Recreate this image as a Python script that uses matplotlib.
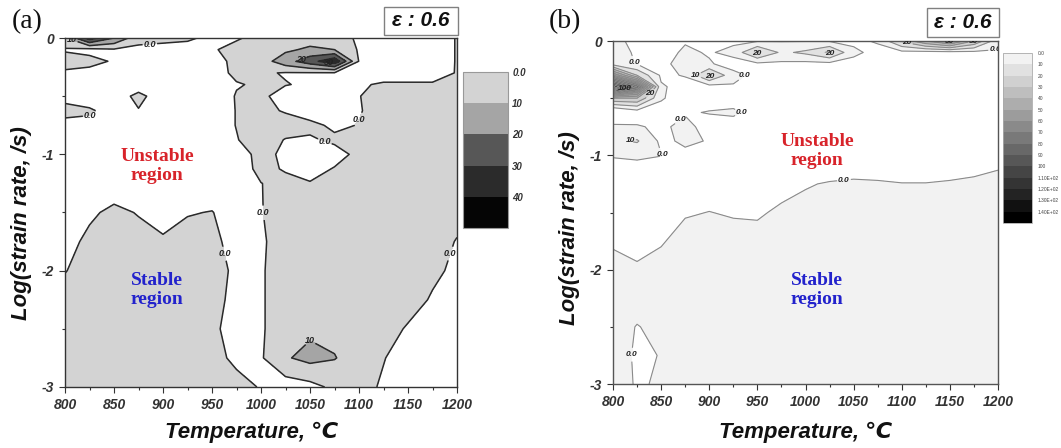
import numpy as np
import matplotlib
matplotlib.use('Agg')
import matplotlib.pyplot as plt
from matplotlib.colors import ListedColormap, BoundaryNorm
from matplotlib.colorbar import Colorbar
from matplotlib.patches import Rectangle

plt.rcParams['axes.unicode_minus'] = False
plt.rcParams['font.family'] = ['Liberation Sans', 'DejaVu Sans']

# ---------------- data ----------------
temperature = [800, 825, 850, 875, 900, 925, 950, 975, 1000, 1025, 1050,
               1075, 1100, 1125, 1150, 1175, 1200]
log_rate = [0, -0.1, -0.2, -0.3, -0.4, -0.5, -0.625, -0.75, -0.875, -1.0,
            -1.125, -1.25, -1.5, -1.75, -2.0, -2.25, -2.5, -2.75, -3.0]

# instability parameter, panel (a)  (rows follow log_rate, columns temperature)
xi_a = [
    [8, 35, 20, 3, 4, 2, -3, -1, 3, 5, 5, 3, -1, -5, -5, -5, 0.5],
    [-1, -3, -1, -2, -5, -5, -1, 3, 5, 8, 12, 10, -1, -5, -5, -5, 0.5],
    [4, 3, -1, -5, -5, -5, -3, 2, 5, 16, 26, 38, -0.5, -5, -5, -5, 0.5],
    [-1.5, -3, -5, -5, -5, -5, -3, 1.5, 1, -0.5, -0.5, -0.5, -1, -4, -4, -4, 0.5],
    [-5, -5, -5, -3, -5, -5, -5, -0.5, 1, 0.3, -1, -5, -1, 1, 1, 1, 1.5],
    [-3, -4, -3, 1.5, -3, -5, -5, 0.5, 1.5, -3, -5, -5, -0.3, 4, 5, 5, 5],
    [3, 1, -3, -0.3, -5, -5, -5, 0.3, 3, -1, -4, -4, -0.5, 3, 5, 5, 5],
    [-3, -2, -5, -5, -5, -5, -5, 0.3, 5, 5, 2, -1.5, 0.3, 5, 5, 5, 5],
    [-5, -5, -5, -5, -5, -5, -5, -0.5, 5, -0.5, -1, 1.5, 3, 5, 5, 5, 5],
    [-5, -5, -5, -5, -5, -5, -5, -4.5, 3, -2, -5, -3, 2, 5, 5, 5, 5],
    [-5, -5, -5, -5, -5, -5, -5, -6, 3, -1, -3, 0.5, 5, 5, 5, 5, 5],
    [-5, -5, -5, -5, -5, -5, -5, -5, -0.2, 3, 0.5, 3, 5, 5, 5, 5, 5],
    [-5, -1.5, 2, -0.5, -3, -0.5, 0.3, -4, -0.5, 5, 5, 5, 5, 5, 5, 5, 3],
    [-3, 2, 4, 3, 1, 3, 2, -3, -1.5, 5, 5, 5, 5, 5, 5, 4, -0.5],
    [-0.5, 5, 5, 5, 5, 5, 4, -2, -1, 5, 5, 5, 5, 5, 5, 2, -2],
    [5, 5, 5, 5, 5, 5, 4, -3.5, -1, 5, 5, 5, 5, 5, 4, -1, -5],
    [5, 5, 5, 5, 5, 5, 2, -4, -1, 5, 8, 7, 5, 4, -1, -5, -5],
    [5, 5, 5, 5, 5, 5, 5, -3.3, -1, 9, 13, 10.5, 5, 0.5, -5, -5, -5],
    [5, 5, 5, 5, 5, 5, 5, 5, -1, -5, -3, 2, 4, -1.5, -5, -5, -5],
]

# instability parameter, panel (b)
xi_b = [
    [2, -2, -5, -1, -1, -2, -1, -0.5, -0.5, -1, -2, 1, 22, 40, 55, 30, 3],
    [3, -1, -5, 2, -1, 3, 22, 8, 12, 22, 2, -3, -3, -4, -4, -3, -1],
    [5, -0.5, -4, 6, 1, -4, -2, -2, -3, -3, -3, -5, -5, -5, -5, -5, -5],
    [60, 20, -1.5, 0.5, 22, 3, -3, -5, -5, -5, -5, -5, -5, -5, -5, -5, -5],
    [145, 90, 1, -3, -4, -1, -1, -5, -5, -5, -5, -5, -5, -5, -5, -5, -5],
    [30, 30, 1, -5, -4, -4, -5, -5, -5, -5, -5, -5, -5, -5, -5, -5, -5],
    [-15, -6, -4, -1, 0.5, 1.5, -3, -5, -5, -5, -5, -5, -5, -5, -5, -5, -5],
    [3, 1, -2, 3, -4, -4, -5, -5, -5, -5, -5, -5, -5, -5, -5, -5, -5],
    [8, 11, -2, 1.5, -0.5, -5, -5, -5, -5, -5, -5, -5, -5, -5, -5, -5, -5],
    [1, 2, 0.3, -2, -3, -5, -5, -5, -5, -5, -5, -5, -5, -5, -5, -5, -5],
    [-5, -4, -5, -5, -5, -5, -5, -5, -5, -5, -4, -4, -5, -5, -4, -3, -0.2],
    [-5, -5, -5, -5, -5, -5, -5, -4, -1, 1, 2, 1.3, 0.4, 0.4, 1.3, 3, 5],
    [-5, -5, -5, -1, 0.2, -1, -1.5, 2, 4, 5, 5, 5, 5, 5, 5, 5, 5],
    [-2, -5, -1, 4, 5, 4, 4, 5, 5, 5, 5, 5, 5, 5, 5, 5, 5],
    [5, 2, 4, 5, 5, 5, 5, 5, 5, 5, 5, 5, 5, 5, 5, 5, 5],
    [5, 5, 5, 5, 5, 5, 5, 5, 5, 5, 5, 5, 5, 5, 5, 5, 5],
    [5, -0.5, 3, 5, 5, 5, 5, 5, 5, 5, 5, 5, 5, 5, 5, 5, 5],
    [5, -1.5, 0.3, 5, 5, 5, 5, 5, 5, 5, 5, 5, 5, 5, 5, 5, 5],
    [5, -1, 1, 5, 5, 5, 5, 5, 5, 5, 5, 5, 5, 5, 5, 5, 5],
]

levels_a = [0, 10, 20, 30, 40, 50]
levels_b = [0, 10, 20, 30, 40, 50, 60, 70, 80, 90, 100, 110, 120, 130, 140, 150]
cbar_labels_a = ['0.0', '10', '20', '30', '40']
cbar_labels_b = ['0.0', '10', '20', '30', '40', '50', '60', '70', '80', '90',
                 '100', '1.10E+02', '1.20E+02', '1.30E+02', '1.40E+02']
x_ticks = [800, 850, 900, 950, 1000, 1050, 1100, 1150, 1200]
y_ticks = [-3, -2, -1, 0]
strain_label = 'ε : 0.6'

# contour labels: (level, near temperature, near log rate)
contour_labels_a = [(0, 887, -0.1), (0, 827, -0.68), (0, 1005, -1.5),
                    (0, 965, -1.85), (0, 1192, -1.85), (0, 1067, -0.84),
                    (0, 1100, -0.7), (10, 806, -0.04), (20, 1040, -0.17),
                    (30, 1070, -0.2), (10, 1050, -2.6)]
contour_labels_b = [(0, 818, -0.2), (100, 812, -0.42), (20, 840, -0.47),
                    (10, 880, -0.25), (20, 900, -0.33), (0, 942, -0.37),
                    (20, 950, -0.1), (20, 1025, -0.1), (20, 1105, -0.04),
                    (50, 1150, -0.01), (30, 1175, -0.02), (0, 1197, -0.07),
                    (0, 868, -0.66), (0, 935, -0.64), (10, 818, -0.87),
                    (0, 851, -0.99), (0, 1040, -1.22), (0, 826, -2.75)]

# ---------------- styling ----------------
W, H = 1061, 448
fig = plt.figure(figsize=(W / 100, H / 100), dpi=100)


def fx(px):
    return px / W


def fy(py):
    return 1 - py / H


colors_a = ['#d3d3d3', '#a5a5a5', '#575757', '#2b2b2b', '#050505']
colors_b = [str(0.95 * (1 - i / 14)) for i in range(15)]

T, Y = np.meshgrid(temperature, log_rate)
Za = np.array(xi_a, dtype=float)
Zb = np.array(xi_b, dtype=float)

tick_font = dict(fontsize=10, fontweight='bold', fontstyle='italic')


def style_axes(ax, spine_color):
    ax.set_xlim(800, 1200)
    ax.set_ylim(-3, 0)
    ax.set_xticks(x_ticks)
    ax.set_xticks(np.arange(825, 1200, 50), minor=True)
    ax.set_yticks(y_ticks)
    ax.set_yticks([-2.5, -1.5, -0.5], minor=True)
    ax.set_xticklabels([str(v) for v in x_ticks], **tick_font)
    ax.set_yticklabels([str(v) for v in y_ticks], **tick_font)
    ax.tick_params(which='major', direction='out', length=4, width=0.8,
                   colors='#333333', pad=4)
    ax.tick_params(which='minor', direction='out', length=2.5, width=0.8,
                   colors='#333333')
    for s in ax.spines.values():
        s.set_color(spine_color)
        s.set_linewidth(1.0)


def draw_lines(ax, Z, levels, specs, color, lw, size):
    """One contour set per level so each label lands on its own level."""
    for lv in levels:
        cs = ax.contour(T, Y, Z, levels=[lv], colors=color, linewidths=lw)
        pts = [(x, y) for (l, x, y) in specs if l == lv]
        if not pts or len(cs.allsegs[0]) == 0:
            continue
        fmt = {lv: ('0.0' if lv == 0 else '%d' % lv)}
        ax.clabel(cs, fmt=fmt, fontsize=size, inline=True,
                  inline_spacing=1, manual=pts, colors='#222222')
        for t in cs.labelTexts:
            t.set_fontweight('bold')
            t.set_fontstyle('italic')
            t.set_rotation(0)


# ---------- panel (a) ----------
ax_a = fig.add_axes([fx(65), fy(387), fx(392), 349 / H])
ax_a.contourf(T, Y, Za, levels=[-100] + levels_a[:-1] + [300],
              colors=['white'] + colors_a)
draw_lines(ax_a, Za, levels_a[:4], contour_labels_a, '#2a2a2a', 1.1, 6.5)
style_axes(ax_a, '#333333')
ax_a.text(894, -1.1, 'Unstable\nregion', color='#d8232a', ha='center',
          va='center', fontsize=14, fontweight='bold',
          family='Liberation Serif', linespacing=1.15)
ax_a.text(894, -2.165, 'Stable\nregion', color='#2222cc', ha='center',
          va='center', fontsize=14, fontweight='bold',
          family='Liberation Serif', linespacing=1.15)

# colorbar (a)
cax_a = fig.add_axes([fx(463), fy(228), fx(45), 156 / H])
cb_a = Colorbar(cax_a, cmap=ListedColormap(colors_a),
                norm=BoundaryNorm(levels_a, len(colors_a)),
                orientation='vertical')
cax_a.invert_yaxis()
cb_a.set_ticks(levels_a[:-1])
cb_a.set_ticklabels(cbar_labels_a)
cax_a.minorticks_off()
cax_a.tick_params(which='both', length=0, pad=3)
for t in cax_a.get_yticklabels():
    t.set_fontsize(7)
    t.set_fontweight('bold')
    t.set_fontstyle('italic')
    t.set_color('#333333')
cb_a.outline.set_edgecolor('#999999')
cb_a.outline.set_linewidth(0.8)

# ---------- panel (b) ----------
ax_b = fig.add_axes([fx(613), fy(384), fx(385), 343 / H])
ax_b.contourf(T, Y, Zb, levels=[-100] + levels_b[:-1] + [300],
              colors=['white'] + colors_b)
draw_lines(ax_b, Zb, levels_b[:-1], contour_labels_b, '#8a8a8a', 0.8, 6)
style_axes(ax_b, '#555555')
ax_b.text(1012, -0.966, 'Unstable\nregion', color='#d8232a', ha='center',
          va='center', fontsize=14, fontweight='bold',
          family='Liberation Serif', linespacing=1.15)
ax_b.text(1012, -2.175, 'Stable\nregion', color='#2222cc', ha='center',
          va='center', fontsize=14, fontweight='bold',
          family='Liberation Serif', linespacing=1.15)

cax_b = fig.add_axes([fx(1003), fy(223), fx(29), 170 / H])
cb_b = Colorbar(cax_b, cmap=ListedColormap(colors_b),
                norm=BoundaryNorm(levels_b, len(colors_b)),
                orientation='vertical')
cax_b.invert_yaxis()
cb_b.set_ticks(levels_b[:-1])
cb_b.set_ticklabels(cbar_labels_b)
cax_b.minorticks_off()
cax_b.tick_params(which='both', length=0, pad=4)
for t in cax_b.get_yticklabels():
    t.set_fontsize(3.5)
    t.set_color('#444444')
cb_b.outline.set_edgecolor('#aaaaaa')
cb_b.outline.set_linewidth(0.6)

# ---------- labels / boxes ----------
label_font = dict(fontsize=16, fontweight='bold', fontstyle='italic',
                  family=['Liberation Sans', 'DejaVu Sans'], color='#111111')
fig.text(fx(252), fy(432), 'Temperature, ℃', ha='center', va='center', **label_font)
fig.text(fx(806), fy(432), 'Temperature, ℃', ha='center', va='center', **label_font)
fig.text(fx(22), fy(223), 'Log(strain rate, /s)', ha='center', va='center',
         rotation=90, **label_font)
fig.text(fx(570), fy(228), 'Log(strain rate, /s)', ha='center', va='center',
         rotation=90, **label_font)

fig.text(fx(27), fy(22), '(a)', ha='center', va='center', fontsize=20,
         family='Liberation Serif', color='#111111')
fig.text(fx(565), fy(22), '(b)', ha='center', va='center', fontsize=20,
         family='Liberation Serif', color='#111111')

for (x0, y0, w, h) in [(384, 7, 74, 28), (927, 8, 72, 29)]:
    fig.patches.append(Rectangle((fx(x0), fy(y0 + h)), fx(w), h / H,
                                 transform=fig.transFigure, fill=False,
                                 edgecolor='#808080', linewidth=1.0))
    fig.text(fx(x0 + w / 2), fy(y0 + h / 2), strain_label, ha='center',
             va='center', fontsize=15, fontweight='bold', fontstyle='italic',
             color='#111111')

fig.savefig('out.png', dpi=100)
